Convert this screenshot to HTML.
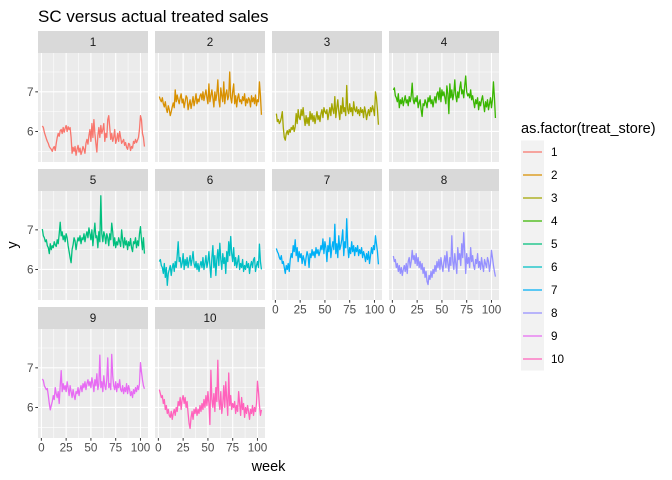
<!DOCTYPE html>
<html><head><meta charset="utf-8"><style>
html,body{margin:0;padding:0;background:#fff;}
svg{display:block;font-family:"Liberation Sans",Arial,sans-serif;}
</style></head><body>
<svg id="chart" width="672" height="480" viewBox="0 0 672 480">
<text x="38" y="22" font-size="17" fill="#000">SC versus actual treated sales</text>
<text x="12" y="245" font-size="14.5" fill="#000" text-anchor="middle" transform="rotate(-90 12 245)" dy="5">y</text>
<text x="268.5" y="471" font-size="14.5" fill="#000" text-anchor="middle">week</text>
<g id="panels"></g>
<g id="legend">
<text x="521" y="133" font-size="14.5" fill="#000">as.factor(treat_store)</text>
</g>
</svg>
<script>
const stores = ["1","2","3","4","5","6","7","8","9","10"];
const colors = ["#F8766D","#D89000","#A3A500","#39B600","#00BF7D","#00BFC4","#00B0F6","#9590FF","#E76BF3","#FF62BC"];
const yTicks = [6,7];
const xTicks = [0,25,50,75,100];
const s1 = [6.14,6.10,5.98,5.90,5.82,5.75,5.70,5.62,5.58,5.55,5.50,5.58,5.62,5.52,5.70,5.85,5.95,5.88,6.02,6.05,5.95,6.10,5.98,6.08,6.15,6.00,6.12,6.05,6.10,5.85,5.45,5.60,5.50,5.62,5.40,5.55,5.65,5.48,5.58,5.42,5.50,5.62,5.55,5.45,5.70,5.80,5.68,5.90,6.05,5.75,6.20,5.85,6.30,5.95,5.70,5.48,5.90,6.10,5.85,6.15,5.95,6.05,6.20,5.75,5.95,5.85,6.30,6.40,6.10,5.80,5.95,5.75,5.85,6.05,5.70,5.80,5.95,5.75,6.00,5.85,5.70,5.75,5.80,5.65,5.72,5.60,5.55,5.70,5.68,5.52,5.62,5.58,5.75,5.70,5.80,5.72,5.78,5.85,6.05,6.40,6.30,5.95,5.85,5.62];
const s2 = [6.88,6.80,6.75,6.85,6.70,6.62,6.75,6.58,6.48,6.65,6.55,6.40,6.50,6.62,6.72,6.60,7.05,6.75,6.92,6.80,6.70,6.85,6.95,6.72,6.82,6.60,6.75,6.90,6.85,6.55,6.68,6.80,6.58,6.72,6.88,6.65,6.78,6.95,6.70,6.82,6.75,6.90,6.95,6.80,7.00,6.78,6.92,7.05,6.85,6.70,7.20,6.75,6.90,7.05,6.85,6.62,7.00,6.78,6.95,7.30,6.80,6.62,7.10,6.90,6.75,7.25,6.70,6.95,7.05,6.80,6.90,7.50,6.85,6.72,7.00,7.20,6.70,6.90,6.62,6.85,6.95,6.75,6.80,6.70,6.88,6.78,6.95,6.65,6.82,6.72,6.85,6.80,6.62,6.90,6.75,6.85,6.70,6.92,6.65,6.80,6.75,7.25,6.90,6.42];
const s3 = [6.45,6.25,6.30,6.20,6.25,6.35,6.50,6.10,5.85,5.78,5.95,6.02,5.92,6.05,5.98,6.10,6.05,6.15,6.00,6.12,6.45,6.20,6.55,6.35,6.30,6.55,6.40,6.60,6.35,6.15,6.40,6.20,6.35,6.15,6.50,6.30,6.45,6.25,6.40,6.20,6.35,6.50,6.30,6.40,6.25,6.45,6.55,6.35,6.60,6.50,6.45,6.55,6.30,6.45,6.60,6.40,6.70,6.55,6.45,6.88,6.35,6.60,6.80,6.50,6.30,6.65,6.45,6.85,6.50,6.60,6.40,7.16,6.55,6.45,6.70,6.50,6.60,6.40,6.75,6.55,6.50,6.62,6.45,6.55,6.40,6.60,6.48,6.55,6.35,6.62,6.50,6.30,6.45,6.55,6.40,6.60,6.50,6.65,6.55,6.40,7.00,6.85,6.55,6.17];
const s4 = [7.05,7.10,6.90,6.85,6.75,6.95,6.60,6.80,6.70,6.85,6.65,6.78,6.90,6.72,6.80,6.65,6.88,6.75,6.90,7.22,6.80,6.70,6.85,6.75,6.90,6.60,6.72,6.80,6.55,6.38,6.70,6.65,6.80,6.72,6.60,6.85,6.75,6.90,6.70,6.80,6.62,6.78,6.88,6.72,6.95,7.00,6.80,7.10,6.75,7.05,6.90,7.00,6.85,6.70,7.15,6.95,6.45,7.20,6.85,7.05,6.80,6.95,7.30,6.90,6.75,7.00,6.85,7.10,7.25,6.95,7.05,6.85,7.15,7.40,7.00,6.90,6.95,6.85,7.05,6.80,6.90,6.75,6.60,6.80,6.70,6.85,6.55,6.75,6.65,6.80,6.90,6.70,6.50,6.75,6.62,6.80,6.55,6.70,6.85,6.60,6.80,7.25,6.85,6.34];
const s5 = [7.02,6.85,6.80,6.70,6.75,6.60,6.55,6.40,6.65,6.50,6.60,6.55,6.70,6.62,6.58,6.75,6.65,6.90,7.19,6.85,6.95,6.75,6.85,6.70,6.90,6.80,6.60,6.45,6.30,6.17,6.50,6.62,6.80,6.72,6.50,6.68,6.80,6.72,6.85,6.65,6.80,6.75,6.90,6.70,6.85,6.95,6.80,7.05,6.90,6.75,7.00,6.60,6.90,7.17,6.80,6.85,6.55,6.95,6.70,7.86,6.90,6.70,6.95,6.85,6.65,6.90,6.80,6.60,6.90,6.75,7.17,6.95,6.60,6.80,6.55,6.70,6.62,6.80,6.70,6.58,7.00,6.75,6.55,6.80,6.62,6.72,6.50,6.70,6.60,6.78,6.55,6.45,6.70,6.65,6.80,6.55,6.72,6.60,6.90,7.08,6.75,6.50,6.80,6.40];
const s6 = [6.20,6.25,6.10,6.05,5.90,6.15,5.80,6.05,5.60,5.90,6.00,6.10,5.85,6.05,6.15,5.95,6.20,6.05,6.35,6.70,6.20,6.30,6.05,6.15,6.40,6.00,6.25,6.10,6.30,6.05,6.20,6.35,6.10,6.25,6.45,6.15,6.05,6.20,6.00,6.15,5.95,6.10,6.20,6.05,6.30,6.00,6.15,6.35,6.05,6.20,6.45,6.10,5.80,6.30,6.60,6.05,6.35,5.85,6.25,6.50,6.10,6.66,6.25,6.00,6.40,6.15,6.30,5.90,6.45,6.20,6.70,6.35,6.83,6.40,6.20,6.55,6.10,6.30,6.05,6.20,6.35,6.00,6.15,6.05,6.25,5.95,6.10,6.00,6.20,6.05,6.15,5.90,6.10,6.20,6.05,6.25,6.30,5.95,6.10,6.20,6.05,6.64,6.20,6.00];
const s7 = [6.53,6.45,6.40,6.30,6.25,6.35,6.15,6.20,6.05,5.90,6.10,6.00,6.15,5.95,6.25,6.40,6.30,6.60,6.45,6.75,6.35,6.55,6.20,6.45,6.30,6.40,6.15,6.35,6.25,6.10,6.30,6.45,6.35,6.05,6.40,6.30,6.50,6.35,6.45,6.30,6.55,6.40,6.50,6.35,6.45,6.60,6.50,6.77,6.40,6.70,6.55,6.20,6.60,6.45,6.80,6.30,6.55,6.70,6.50,7.14,6.40,6.65,6.30,6.85,6.50,6.60,6.75,7.00,6.35,6.70,6.55,7.28,6.60,6.30,6.55,6.40,6.70,6.45,6.60,6.35,6.55,6.45,6.60,6.35,6.50,6.40,6.55,6.30,6.45,6.35,6.20,6.40,6.25,6.45,6.15,6.35,6.55,6.40,6.60,6.50,6.85,6.65,6.45,6.13];
const s8 = [6.34,6.20,6.25,6.05,6.15,5.95,6.10,5.90,6.05,5.85,6.00,6.10,5.95,6.15,5.90,6.20,6.30,6.05,6.20,6.48,6.25,6.35,6.15,6.40,6.10,6.30,6.05,6.20,6.00,6.15,5.90,6.05,5.80,5.95,5.70,5.62,5.85,5.75,5.95,5.80,6.00,5.90,6.10,5.95,6.20,6.05,6.25,6.00,6.30,6.10,5.95,6.20,6.35,6.05,6.45,6.15,5.95,6.30,6.10,6.85,6.20,6.00,6.40,6.15,5.90,6.55,6.25,6.40,6.10,6.65,6.30,6.93,6.45,5.90,6.40,6.15,6.30,6.05,6.55,6.20,6.35,6.10,6.00,6.25,6.15,6.40,6.05,6.20,6.00,6.30,6.10,5.95,6.25,6.15,6.05,6.30,6.20,5.95,6.15,6.48,6.30,6.10,5.95,5.82];
const s9 = [6.72,6.68,6.55,6.50,6.45,6.48,6.30,6.10,5.94,6.05,6.15,6.30,6.20,6.50,6.35,6.25,6.40,6.10,6.55,6.93,6.40,6.60,6.45,6.55,6.40,6.65,6.50,6.30,6.55,6.40,6.25,6.45,6.30,6.20,6.40,6.35,6.50,6.30,6.45,6.55,6.40,6.60,6.50,6.65,6.45,6.60,6.70,6.55,6.65,6.50,6.75,6.60,6.40,6.70,6.55,6.85,6.45,6.60,7.32,6.50,6.65,6.40,6.80,6.55,6.45,6.70,7.25,6.50,6.60,6.45,7.34,6.80,6.55,6.45,6.65,6.40,6.60,6.50,6.70,6.45,6.40,6.55,6.35,6.50,6.40,6.60,6.35,6.55,6.45,6.30,6.40,6.25,6.45,6.35,6.50,6.40,6.55,6.45,6.60,7.13,6.90,6.70,6.55,6.47];
const s10 = [6.45,6.35,6.25,6.30,6.10,6.20,5.95,6.05,5.85,5.95,5.80,5.75,5.90,5.70,5.85,5.95,5.80,6.00,5.90,6.15,6.05,6.25,5.95,6.20,6.30,6.10,6.25,6.00,6.15,5.85,5.60,5.47,5.75,5.90,5.70,5.95,5.85,6.00,5.80,5.95,5.85,6.05,5.90,6.10,5.95,6.20,6.00,6.30,6.05,6.40,6.10,5.57,6.94,6.20,6.00,6.35,5.90,6.50,6.15,7.19,6.20,5.95,6.40,5.85,6.10,6.55,6.00,6.65,6.20,5.80,6.87,6.05,6.30,5.95,6.10,6.00,6.15,5.85,6.05,5.90,6.40,6.10,5.80,6.25,5.95,6.10,5.75,6.00,5.85,6.05,5.90,5.70,5.95,5.85,6.05,5.80,6.00,5.90,6.10,6.66,6.40,6.05,5.80,5.94];
const series = [s1,s2,s3,s4,s5,s6,s7,s8,s9,s10];

const NS = "http://www.w3.org/2000/svg";
const colX = [38,155,272,389], PW = 110;
const rowY = [53,191,329], PH = 109, SH = 22;
const yMin = 5.23, yMax = 7.98, xMin = -3.4, xMax = 107.6;
function sx(w, x0){ return x0 + (w - xMin) / (xMax - xMin) * PW; }
function sy(v, y0){ return y0 + (yMax - v) / (yMax - yMin) * PH; }
function mk(tag, attrs, parent){ const e = document.createElementNS(NS, tag); for (const k in attrs) e.setAttribute(k, attrs[k]); parent.appendChild(e); return e; }

const root = document.getElementById('panels');
const hasXAxis = [false,false,false,false,false,false,true,true,true,true];
series.forEach((vals, i) => {
  const c = i % 4, r = Math.floor(i / 4);
  const x0 = colX[c], y0 = rowY[r];
  const g = mk('g', {}, root);
  
  
  const strip = mk('rect', {x:x0, y:y0-SH, width:PW, height:SH, fill:'#D9D9D9'}, g);
  
  
  const st = mk('text', {x:x0+PW/2, y:y0-SH/2+4, 'font-size':11.7, fill:'#1A1A1A', 'text-anchor':'middle'}, g);
  st.textContent = stores[i];
  
  
  const bg = mk('rect', {x:x0, y:y0, width:PW, height:PH, fill:'#EBEBEB'}, g);
  
  
  [5.5,6.5,7.5].forEach(v => mk('line', {x1:x0, x2:x0+PW, y1:sy(v,y0), y2:sy(v,y0), stroke:'#fff', 'stroke-width':0.55}, g));
  [-12.5,12.5,37.5,62.5,87.5].forEach(w => { if (w > xMin) mk('line', {x1:sx(w,x0), x2:sx(w,x0), y1:y0, y2:y0+PH, stroke:'#fff', 'stroke-width':0.55}, g); });
  yTicks.forEach(v => mk('line', {x1:x0, x2:x0+PW, y1:sy(v,y0), y2:sy(v,y0), stroke:'#fff', 'stroke-width':1.1}, g));
  xTicks.forEach(w => mk('line', {x1:sx(w,x0), x2:sx(w,x0), y1:y0, y2:y0+PH, stroke:'#fff', 'stroke-width':1.1}, g));
  const pts = vals.map((v, k) => sx(k+1, x0).toFixed(2) + ',' + sy(v, y0).toFixed(2)).join(' ');
  const line = mk('polyline', {points:pts, fill:'none', stroke:colors[i], 'stroke-width':1.3, 'stroke-linejoin':'round'}, g);
  
  
  if (c === 0) {
    yTicks.forEach(v => {
      mk('line', {x1:x0-2.7, x2:x0, y1:sy(v,y0), y2:sy(v,y0), stroke:'#333', 'stroke-width':1}, g);
      const t = mk('text', {x:x0-4.5, y:sy(v,y0)+4, 'font-size':11.7, fill:'#4D4D4D', 'text-anchor':'end'}, g);
      t.textContent = String(v);
      
      
    });
  }
  if (hasXAxis[i]) {
    xTicks.forEach(w => {
      mk('line', {x1:sx(w,x0), x2:sx(w,x0), y1:y0+PH, y2:y0+PH+2.7, stroke:'#333', 'stroke-width':1}, g);
      const t = mk('text', {x:sx(w,x0), y:y0+PH+13.5, 'font-size':11.7, fill:'#4D4D4D', 'text-anchor':'middle'}, g);
      t.textContent = String(w);
      
      
    });
  }
});

const lg = document.getElementById('legend');
stores.forEach((s, i) => {
  const cy = 152 + i * 23;
  const key = mk('rect', {x:521, y:cy-11.5, width:23, height:23, fill:'#F2F2F2'}, lg);
  
  
  mk('line', {x1:523, x2:542, y1:cy, y2:cy, stroke:colors[i], 'stroke-width':1.3}, lg);
  const t = mk('text', {x:551, y:cy+4, 'font-size':11.7, fill:'#000'}, lg);
  t.textContent = s;
  
  
});
</script>
</body></html>
